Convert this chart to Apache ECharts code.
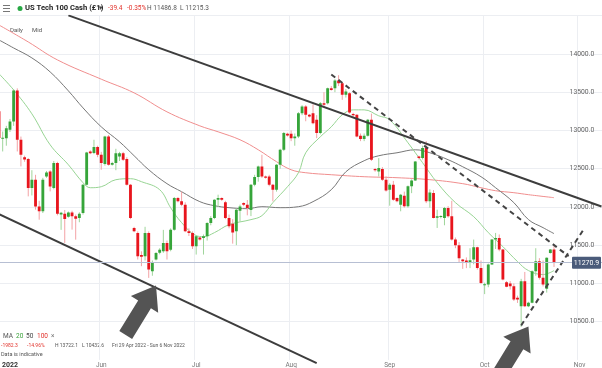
<!DOCTYPE html>
<html><head><meta charset="utf-8">
<script src="https://cdn.jsdelivr.net/npm/echarts@6/dist/echarts.min.js"></script>
<style>html,body{margin:0;padding:0;background:#fff}#c{width:602px;height:368px}</style>
</head><body><div id="c"></div><script>
// ---- trading days shown (Sun-Fri sessions) ----
const dates = ['2022-04-29',
'2022-05-01','2022-05-02','2022-05-03','2022-05-04','2022-05-05','2022-05-06',
'2022-05-08','2022-05-09','2022-05-10','2022-05-11','2022-05-12','2022-05-13',
'2022-05-15','2022-05-16','2022-05-17','2022-05-18','2022-05-19','2022-05-20',
'2022-05-22','2022-05-23','2022-05-24','2022-05-25','2022-05-26','2022-05-27',
'2022-05-29','2022-05-30','2022-05-31','2022-06-01','2022-06-02','2022-06-03',
'2022-06-05','2022-06-06','2022-06-07','2022-06-08','2022-06-09','2022-06-10',
'2022-06-12','2022-06-13','2022-06-14','2022-06-15','2022-06-16','2022-06-17',
'2022-06-19','2022-06-20','2022-06-21','2022-06-22','2022-06-23','2022-06-24',
'2022-06-26','2022-06-27','2022-06-28','2022-06-29','2022-06-30','2022-07-01',
'2022-07-03','2022-07-04','2022-07-05','2022-07-06','2022-07-07','2022-07-08',
'2022-07-10','2022-07-11','2022-07-12','2022-07-13','2022-07-14','2022-07-15',
'2022-07-17','2022-07-18','2022-07-19','2022-07-20','2022-07-21','2022-07-22',
'2022-07-24','2022-07-25','2022-07-26','2022-07-27','2022-07-28','2022-07-29',
'2022-07-31','2022-08-01','2022-08-02','2022-08-03','2022-08-04','2022-08-05',
'2022-08-07','2022-08-08','2022-08-09','2022-08-10','2022-08-11','2022-08-12',
'2022-08-14','2022-08-15','2022-08-16','2022-08-17','2022-08-18','2022-08-19',
'2022-08-21','2022-08-22','2022-08-23','2022-08-24','2022-08-25','2022-08-26',
'2022-08-28','2022-08-29','2022-08-30','2022-08-31','2022-09-01','2022-09-02',
'2022-09-04','2022-09-05','2022-09-06','2022-09-07','2022-09-08','2022-09-09',
'2022-09-11','2022-09-12','2022-09-13','2022-09-14','2022-09-15','2022-09-16',
'2022-09-18','2022-09-19','2022-09-20','2022-09-21','2022-09-22','2022-09-23',
'2022-09-25','2022-09-26','2022-09-27','2022-09-28','2022-09-29','2022-09-30',
'2022-10-02','2022-10-03','2022-10-04','2022-10-05','2022-10-06','2022-10-07',
'2022-10-09','2022-10-10','2022-10-11','2022-10-12','2022-10-13','2022-10-14',
'2022-10-16','2022-10-17','2022-10-18','2022-10-19','2022-10-20','2022-10-21',
'2022-10-23','2022-10-24'];
const futureDates = ['2022-10-25','2022-10-26','2022-10-27','2022-10-28','2022-10-30','2022-10-31',
'2022-11-01','2022-11-02','2022-11-03','2022-11-04','2022-11-06','2022-11-07','2022-11-08'];

const open = [13250,12890,12899,13008,13117,13521,12877,12650,12625,12247,
12356,12007,11942,12399,12464,12247,12573,11900,11912,11870,
11927,11877,11855,11920,12290,12725,12704,12782,12682,12560,
12921,12551,12573,12660,12703,12625,12290,11725,11660,11370,
11355,11660,11160,11312,11400,11420,11529,11440,11703,12116,
12073,12029,11681,11660,11486,11600,11595,11616,11790,11855,
12094,12116,12060,11855,11780,11681,11950,12051,12029,11960,
12290,12390,12530,12399,12399,12290,12225,12551,12747,12956,
12956,12899,12921,13226,13313,13204,13226,13140,12965,13356,
13356,13552,13552,13652,13617,13465,13487,13215,13204,12930,
12887,12930,13139,12495,12464,12495,12356,12225,12290,12116,
12030,12147,12008,12269,12347,12660,12639,12769,12073,12182,
11860,11870,11855,11986,11877,11573,11500,11312,11299,11277,
11312,11473,11203,10980,10986,11247,11573,11595,11442,11016,
11000,10964,10812,10703,11029,10703,10746,11160,11290,11073,
10929,11399,11442];
const high = [13290,12986,13060,13150,13540,13550,12920,12670,12640,12480,
12420,12080,12380,12470,12480,12600,12590,11935,11960,11940,
11950,11900,11930,12300,12720,12740,12878,12800,12720,12930,
12940,12590,12760,12720,12720,12650,12300,11740,11680,11420,
11740,11680,11300,11410,11460,11700,11560,11720,12130,12130,
12200,12060,11720,11680,11630,11610,11640,11800,11880,12100,
12160,12125,12080,11900,11840,11980,12030,12060,12090,12300,
12420,12540,12682,12410,12420,12300,12560,12760,12980,12970,
13000,12960,13240,13330,13330,13215,13340,13200,13370,13500,
13560,13580,13670,13722.1,13630,13540,13500,13230,13210,12960,
12960,13150,13220,12510,12638,12520,12400,12310,12340,12125,
12170,12200,12280,12360,12600,12670,12800,12860,12230,12220,
11964,11890,12000,12010,12080,11600,11540,11320,11340,11460,
11573,11480,11300,11010,11260,11580,11660,11640,11450,11030,
11030,11000,10840,11060,11150,10760,11170,11460,11330,11300,
11340,11450,11486.8];
const low = [12760,12725,12800,12980,13060,12725,12530,12590,12138,12150,
11964,11833,11920,12380,12203,12230,11890,11700,11529,11860,
11703,11572,11800,11900,12280,12690,12690,12650,12486,12540,
12540,12540,12480,12600,12600,12280,11840,11670,11312,11225,
11300,11072,11100,11300,11380,11400,11312,11420,11690,12060,
12010,11670,11620,11450,11377,11560,11377,11560,11760,11840,
12000,12080,11840,11720,11520,11500,11810,12010,11890,11880,
12270,12330,12380,12370,12270,12073,12200,12500,12730,12920,
12860,12800,12900,13200,13120,13170,13080,12899,12950,13300,
13340,13520,13500,13580,13400,13430,13220,13180,12910,12860,
12860,12920,12600,12460,12399,12340,12200,12016,12080,12060,
11943,11990,11990,12180,12340,12620,12620,12050,11990,11850,
11725,11850,11760,11860,11560,11460,11280,11190,11200,11200,
11250,11180,10990,10860,10950,11240,11450,11420,11040,10950,
10920,10770,10745,10432.6,10690,10690,10740,11100,11050,10960,
10880,11390,11215.3];
const close = [12900,12905,13030,13117,13521,12877,12682,12620,12247,12356,
12007,11942,12356,12451,12268,12573,11912,11925,11842,11927,
11877,11847,11912,12290,12712,12703,12782,12682,12573,12921,
12551,12573,12703,12703,12616,12290,11855,11681,11355,11350,
11660,11181,11268,11399,11440,11529,11420,11703,12116,12073,
12029,11681,11660,11486,11616,11573,11616,11790,11855,12094,
12116,12094,11855,11747,11665,11964,12007,12029,11986,12290,
12390,12530,12399,12380,12290,12225,12551,12747,12965,12935,
12899,12921,13226,13313,13204,13182,13095,12965,13356,13335,
13552,13530,13652,13617,13465,13508,13234,13200,12921,12887,
12930,13139,12617,12478,12508,12356,12216,12290,12095,12073,
12160,12008,12269,12347,12595,12639,12769,12073,12190,11855,
11877,11880,11986,11877,11573,11500,11330,11290,11268,11303,
11473,11203,11007,10990,11247,11573,11595,11442,11051,10955,
10964,10790,10790,11029,10703,10746,11160,11290,11073,10986,
11334,11442,11270.9];

// ---- moving averages ----
const ma20 = [['2022-04-29',13740],['2022-05-04',13530],['2022-05-10',13217],['2022-05-16',12812],
['2022-05-22',12551],['2022-05-26',12317],['2022-05-29',12251],['2022-06-01',12264],['2022-06-06',12356],
['2022-06-10',12369],['2022-06-14',12330],['2022-06-20',12225],['2022-06-23',11990],['2022-06-27',11795],
['2022-07-01',11625],['2022-07-04',11612],['2022-07-07',11664],['2022-07-12',11768],['2022-07-19',11834],
['2022-07-22',11886],['2022-07-26',12056],['2022-07-31',12264],['2022-08-03',12447],['2022-08-05',12708],
['2022-08-10',12917],['2022-08-14',13047],['2022-08-17',13204],['2022-08-21',13269],['2022-08-24',13269],
['2022-08-29',13191],['2022-09-01',13139],['2022-09-07',12839],['2022-09-12',12578],['2022-09-16',12317],
['2022-09-22',12056],['2022-09-28',11873],['2022-10-03',11664],['2022-10-07',11481],['2022-10-12',11286],
['2022-10-16',11168],['2022-10-20',11116],['2022-10-24',11168]];
const ma50 = [['2022-04-29',14183],['2022-05-04',14078],['2022-05-10',13948],['2022-05-16',13765],
['2022-05-22',13517],['2022-05-26',13295],['2022-06-01',13047],['2022-06-07',12852],['2022-06-12',12669],
['2022-06-16',12486],['2022-06-22',12304],['2022-06-27',12199],['2022-07-03',12069],['2022-07-07',12016],
['2022-07-12',11990],['2022-07-18',11977],['2022-07-22',12003],['2022-07-28',11990],['2022-08-03',12003],
['2022-08-08',12069],['2022-08-14',12225],['2022-08-18',12460],['2022-08-24',12604],['2022-08-29',12669],
['2022-09-04',12708],['2022-09-09',12747],['2022-09-14',12708],['2022-09-20',12617],['2022-09-25',12525],
['2022-09-30',12395],['2022-10-05',12251],['2022-10-11',12056],['2022-10-16',11834],['2022-10-20',11729],
['2022-10-24',11651]];
const ma100 = [['2022-04-29',14378],['2022-05-09',14157],['2022-05-18',13922],['2022-06-01',13670],
['2022-06-12',13491],['2022-06-22',13243],['2022-07-03',13060],['2022-07-08',12982],['2022-07-15',12878],
['2022-07-21',12747],['2022-07-27',12591],['2022-08-01',12486],['2022-08-05',12447],['2022-08-14',12421],
['2022-08-24',12395],['2022-09-04',12382],['2022-09-14',12356],['2022-09-25',12304],['2022-09-30',12251],
['2022-10-05',12212],['2022-10-11',12186],['2022-10-16',12160],['2022-10-24',12121]];

// ---- drawn annotations (price levels at dates) ----
const upperChannel = [['2022-05-22',14504],['2022-11-08',12006]];
const lowerChannel = [['2022-04-29',11905],['2022-08-09',9957]];
const fallDashed = [['2022-08-14',13732],['2022-10-28',11355]];
const riseDashed = [['2022-10-13',10450],['2022-11-02',11698]];
const arrowTips = [['2022-06-19',10972],['2022-10-16',10437]];
const monthNames = ['Jan','Feb','Mar','Apr','May','Jun','Jul','Aug','Sep','Oct','Nov','Dec'];
const yearLabel = '2022';

const allDates = dates.concat(futureDates);
const labelIdx = new Set([0]);
let prevM = allDates[0].slice(5,7);
allDates.forEach((d,i)=>{ const m=d.slice(5,7); if(m!==prevM){ if(i>4) labelIdx.add(i); prevM=m; } });
const gridIdx = new Set([...labelIdx].filter(i=>i>0));
const lastPrice = close[close.length-1];

const candleData = dates.map((d,i)=>[i, open[i], close[i], low[i], high[i]]);
const FONT = 'Roboto';

const chart = echarts.init(document.getElementById('c'), null, {renderer:'canvas'});
chart.setOption({
  animation:false,
  backgroundColor:'#ffffff',
  grid:{left:-2.8, right:-1.3, top:15.7, bottom:8.1, containLabel:false, outerBoundsMode:'none'},
  xAxis:{
    type:'category', data:allDates, boundaryGap:true,
    axisLine:{show:false}, axisTick:{show:false},
    axisLabel:{
      interval:(i)=>labelIdx.has(i), margin:1.5, color:'#777', fontSize:6.5, fontFamily:FONT,
      alignMinLabel:'left',
      formatter:(v,i)=> i===0 ? '{y|'+yearLabel+'}' : monthNames[parseInt(v.slice(5,7),10)-1],
      rich:{y:{fontWeight:'bold', color:'#333', fontSize:7, fontFamily:FONT, padding:[0,0,0,3]}}
    },
    splitLine:{show:true, interval:(i)=>gridIdx.has(i), lineStyle:{color:'#eceef2', width:1}}
  },
  yAxis:{
    type:'value', position:'right', min:10000, max:14500, interval:500, scale:true,
    axisLine:{show:false}, axisTick:{show:false},
    axisLabel:{inside:true, margin:9, color:'#666', fontSize:6.8, fontFamily:FONT,
      showMinLabel:false, showMaxLabel:false, formatter:(v)=>v.toFixed(1)},
    splitLine:{show:true, showMinLine:false, showMaxLine:true, lineStyle:{color:'#eceef2', width:1}}
  },
  series:[
    {type:'line', name:'MA100', data:ma100, smooth:0.4, symbol:'none', z:2,
      lineStyle:{color:'#f08e8e', width:1}},
    {type:'line', name:'MA50', data:ma50, smooth:0.4, symbol:'none', z:2,
      lineStyle:{color:'#777777', width:1}},
    {type:'line', name:'MA20', data:ma20, smooth:0.4, symbol:'none', z:2,
      lineStyle:{color:'#97d493', width:1},
      markLine:{silent:true, symbol:['none','none'], label:{show:false},
        lineStyle:{color:'#b7bfd3', width:1, type:'solid'}, data:[{yAxis:lastPrice}]}},
    {type:'custom', name:'candles', z:3, clip:true, data:candleData,
      encode:{x:0, y:[1,2,3,4]},
      renderItem:(params, api)=>{
        const i=api.value(0), o=api.value(1), c=api.value(2), l=api.value(3), h=api.value(4);
        const pO=api.coord([i,o]), pC=api.coord([i,c]), pL=api.coord([i,l]), pH=api.coord([i,h]);
        const w=api.size([1,0])[0]*0.78;
        const up=c>=o;
        const top=Math.min(pO[1],pC[1]);
        const bh=Math.max(Math.abs(pO[1]-pC[1]),1);
        return {type:'group', children:[
          {type:'line', shape:{x1:pH[0],y1:pH[1],x2:pL[0],y2:pL[1]}, style:{stroke: up?'#9fd59b':'#f3a2a5', lineWidth:1}},
          {type:'rect', shape:{x:pO[0]-w/2, y:top, width:w, height:bh}, style:{fill: up?'#36a53a':'#e8151d'}}
        ]};
      }},
    {type:'line', name:'upper', data:upperChannel, symbol:'none', z:4, lineStyle:{color:'#3d3d3d', width:2}},
    {type:'line', name:'lower', data:lowerChannel, symbol:'none', z:4, clip:false, lineStyle:{color:'#3d3d3d', width:2}},
    {type:'line', name:'fall', data:fallDashed, symbol:'none', z:4, lineStyle:{color:'#444', width:2, type:[5,4]}},
    {type:'line', name:'rise', data:riseDashed, symbol:'none', z:4, lineStyle:{color:'#444', width:2, type:[5,4]}},
    {type:'custom', name:'arrows', z:5, data:arrowTips,
      renderItem:(params, api)=>{
        const tip=api.coord([api.value(0), api.value(1)]);
        const a=-58.5*Math.PI/180, dx=Math.cos(a), dy=Math.sin(a), nx=-dy, ny=dx;
        const L=58, hl=22, hw=32, sw=15;
        const pts=[[0,0],[-hl,hw/2],[-hl,sw/2],[-L,sw/2],[-L,-sw/2],[-hl,-sw/2],[-hl,-hw/2]]
          .map(([u,v])=>[tip[0]+u*dx+v*nx, tip[1]+u*dy+v*ny]);
        return {type:'polygon', shape:{points:pts}, style:{fill:'#545454'}};
      }},
    {type:'custom', name:'tag', z:10, data:[[dates.length-1, lastPrice]],
      renderItem:(params, api)=>{
        const p=api.coord([api.value(0), api.value(1)]);
        const cs=params.coordSys;
        const right=cs.x+cs.width-2.3;
        return {type:'group', children:[
          {type:'rect', shape:{x:right-29, y:p[1]-6, width:29, height:12, r:1}, style:{fill:'#4a5b7a'}},
          {type:'text', style:{x:right-14.5, y:p[1]+0.5, text:api.value(1).toFixed(1), fill:'#fff',
            font:'7px '+FONT, align:'center', verticalAlign:'middle'}}
        ]};
      }}
  ],
  graphic:{elements:[
    {type:'rect', shape:{x:3,y:5,width:7,height:1}, style:{fill:'#777'}},
    {type:'rect', shape:{x:3,y:8,width:7,height:1}, style:{fill:'#777'}},
    {type:'rect', shape:{x:3,y:11,width:7,height:1}, style:{fill:'#777'}},
    {type:'circle', shape:{cx:20,cy:8.5,r:2.5}, style:{fill:'#27a844'}},
    {type:'text', x:25, y:8.5, style:{text:'US Tech 100 Cash (£1)', font:'bold 7.6px '+FONT, fill:'#222', verticalAlign:'middle'}},
    {type:'text', x:99, y:8.5, style:{text:'▾', font:'7px '+FONT, fill:'#444', verticalAlign:'middle'}},
    {type:'text', x:108, y:8.5, style:{text:'-39.4', font:'6.5px '+FONT, fill:'#e2322b', verticalAlign:'middle'}},
    {type:'text', x:127, y:8.5, style:{text:'-0.35%', font:'6.5px '+FONT, fill:'#e2322b', verticalAlign:'middle'}},
    {type:'text', x:147, y:8.5, style:{text:'H 11486.8  L 11215.3', font:'6.5px '+FONT, fill:'#555', verticalAlign:'middle'}},
    {type:'text', x:10, y:30, style:{text:'Daily', font:'6px '+FONT, fill:'#555', verticalAlign:'middle'}},
    {type:'text', x:32, y:30, style:{text:'Mid', font:'6px '+FONT, fill:'#555', verticalAlign:'middle'}},
    {type:'text', x:3, y:336, style:{text:'MA', font:'6.5px '+FONT, fill:'#555', verticalAlign:'middle'}},
    {type:'text', x:16, y:336, style:{text:'20', font:'6.5px '+FONT, fill:'#3aa13a', verticalAlign:'middle'}},
    {type:'text', x:26, y:336, style:{text:'50', font:'6.5px '+FONT, fill:'#444', verticalAlign:'middle'}},
    {type:'text', x:37, y:336, style:{text:'100', font:'6.5px '+FONT, fill:'#e2322b', verticalAlign:'middle'}},
    {type:'text', x:51, y:336, style:{text:'×', font:'6.5px '+FONT, fill:'#777', verticalAlign:'middle'}},
    {type:'text', x:1, y:346, style:{text:'-1982.3', font:'5px '+FONT, fill:'#e2322b', verticalAlign:'middle'}},
    {type:'text', x:27, y:346, style:{text:'-14.96%', font:'5px '+FONT, fill:'#e2322b', verticalAlign:'middle'}},
    {type:'text', x:55, y:346, style:{text:'H 13722.1', font:'5px '+FONT, fill:'#555', verticalAlign:'middle'}},
    {type:'text', x:82, y:346, style:{text:'L 10432.6', font:'5px '+FONT, fill:'#555', verticalAlign:'middle'}},
    {type:'text', x:112, y:346, style:{text:'Fri 29 Apr 2022 - Sun 6 Nov 2022', font:'5px '+FONT, fill:'#555', verticalAlign:'middle'}},
    {type:'text', x:1, y:355, style:{text:'Data is indicative', font:'5.5px '+FONT, fill:'#555', verticalAlign:'middle'}}
  ]}
});
</script></body></html>
